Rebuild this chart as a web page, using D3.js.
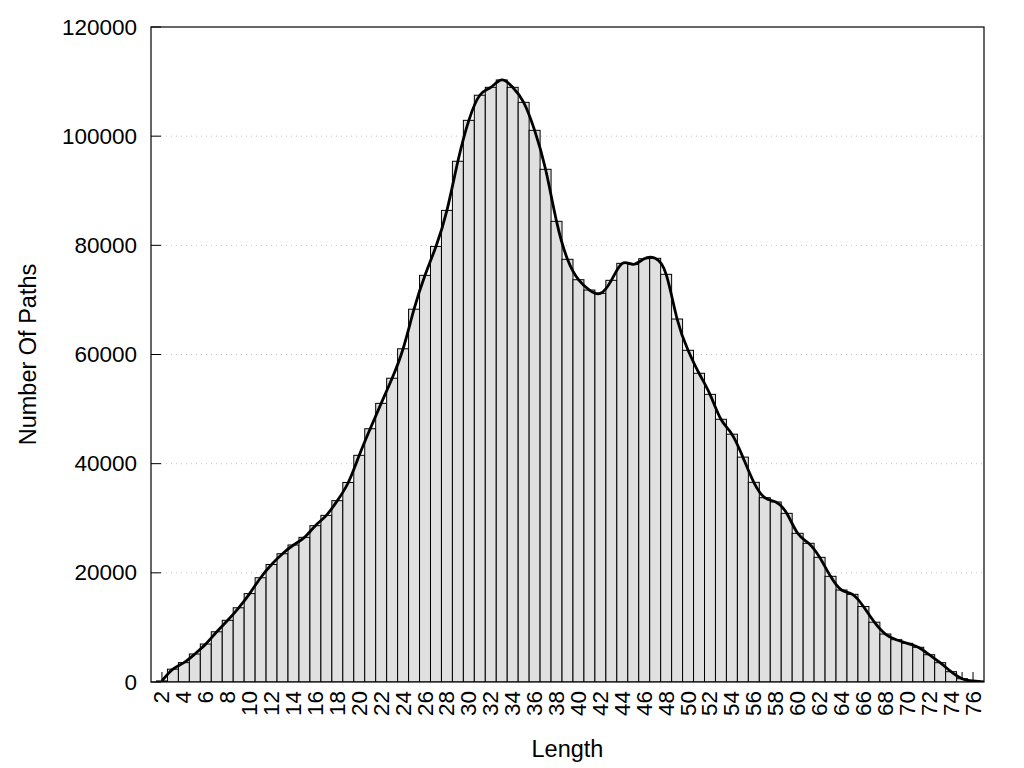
<!DOCTYPE html>
<html>
<head>
<meta charset="utf-8">
<script src="https://cdn.jsdelivr.net/npm/d3@7"></script>
<style>
  html, body { margin: 0; padding: 0; background: #fff; }
  svg { display: block; }
  text { font-family: "Liberation Sans", Arial, sans-serif; fill: #000; }
</style>
</head>
<body>
<svg id="chart" width="1024" height="768"></svg>
<script>
// ---- data ----
const lengths = [2,3,4,5,6,7,8,9,10,11,12,13,14,15,16,17,18,19,20,21,22,23,24,25,26,27,28,29,30,31,32,33,34,35,36,37,38,39,40,41,42,43,44,45,46,47,48,49,50,51,52,53,54,55,56,57,58,59,60,61,62,63,64,65,66,67,68,69,70,71,72,73,74,75,76,77];
const paths = [200,2350,3550,5130,6960,9200,11300,13600,16200,19100,21530,23500,25100,26500,28640,30530,33220,36550,41530,46400,51050,55650,61050,68300,74500,79800,86400,95400,102900,107500,108950,110300,108950,106200,101070,93930,84400,77440,73700,71810,71200,73590,76700,76520,77550,77620,74690,66500,60770,56560,52700,48130,45400,41200,36580,33770,32980,30900,27240,25410,22840,19360,16850,16060,13830,10960,8790,7750,7090,6360,5000,3540,1890,600,200,0];
const xTickLabels = [2,4,6,8,10,12,14,16,18,20,22,24,26,28,30,32,34,36,38,40,42,44,46,48,50,52,54,56,58,60,62,64,66,68,70,72,74,76];
const yTicks = [0,20000,40000,60000,80000,100000,120000];
const xLabel = "Length";
const yLabel = "Number Of Paths";

// ---- layout ----
const svg = d3.select("#chart");
const pL = 151, pR = 984, pT = 27, pB = 682;
const x = d3.scaleLinear().domain([1, 77]).range([pL, pR]);
const y = d3.scaleLinear().domain([0, 120000]).range([pB, pT]);
const data = lengths.map((l, i) => ({ l, v: paths[i] }));

svg.append("defs").append("clipPath").attr("id", "clip")
  .append("rect").attr("x", pL).attr("y", pT).attr("width", pR - pL).attr("height", pB - pT);

// grid (behind)
svg.append("g").selectAll("line").data(yTicks.filter(t => t > 0 && t < 120000)).join("line")
  .attr("x1", pL).attr("x2", pR)
  .attr("y1", d => y(d)).attr("y2", d => y(d))
  .attr("stroke", "#c4c4c4").attr("stroke-width", 1).attr("stroke-dasharray", "1,4");

// ticks (behind bars)
const ticksG = svg.append("g");
ticksG.selectAll("line.xt").data(lengths.filter(l => l < 77)).join("line")
  .attr("class", "xt")
  .attr("x1", d => x(d)).attr("x2", d => x(d))
  .attr("y1", pB).attr("y2", pB - 10)
  .attr("stroke", "#000").attr("stroke-width", 1);
ticksG.selectAll("line.yt").data(yTicks).join("line")
  .attr("class", "yt")
  .attr("x1", pL).attr("x2", pL + 10)
  .attr("y1", d => y(d)).attr("y2", d => y(d))
  .attr("stroke", "#000").attr("stroke-width", 1);

// bars
const bw = x(1.5) - x(1);
svg.append("g").attr("clip-path", "url(#clip)")
  .selectAll("rect").data(data).join("rect")
  .attr("x", d => x(d.l) - bw)
  .attr("width", 2 * bw)
  .attr("y", d => y(d.v))
  .attr("height", d => pB - y(d.v))
  .attr("fill", "#e0e0e0")
  .attr("stroke", "#000")
  .attr("stroke-width", 1);

// smooth curve
const line = d3.line().x(d => x(d.l)).y(d => y(d.v)).curve(d3.curveNatural);
svg.append("path").datum(data)
  .attr("clip-path", "url(#clip)")
  .attr("d", line)
  .attr("fill", "none")
  .attr("stroke", "#000")
  .attr("stroke-width", 2.8)
  .attr("stroke-linejoin", "round");

// border
svg.append("rect")
  .attr("x", pL).attr("y", pT).attr("width", pR - pL).attr("height", pB - pT)
  .attr("fill", "none").attr("stroke", "#000").attr("stroke-width", 1.2);

// y tick labels
svg.append("g").selectAll("text").data(yTicks).join("text")
  .attr("x", 137).attr("y", d => y(d))
  .attr("text-anchor", "end").attr("dominant-baseline", "central")
  .style("font-size", "22.5px")
  .text(d => d);

// x tick labels (rotated)
svg.append("g").selectAll("text").data(xTickLabels).join("text")
  .attr("transform", d => `translate(${x(d)},691) rotate(-90)`)
  .attr("text-anchor", "end").attr("dominant-baseline", "central")
  .style("font-size", "22.5px")
  .text(d => d);

// axis titles
svg.append("text")
  .attr("x", (pL + pR) / 2).attr("y", 757)
  .attr("text-anchor", "middle")
  .style("font-size", "23.5px")
  .text(xLabel);
svg.append("text")
  .attr("transform", `translate(28,${(pT + pB) / 2}) rotate(-90)`)
  .attr("text-anchor", "middle").attr("dominant-baseline", "central")
  .style("font-size", "23.5px")
  .text(yLabel);
</script>
</body>
</html>
